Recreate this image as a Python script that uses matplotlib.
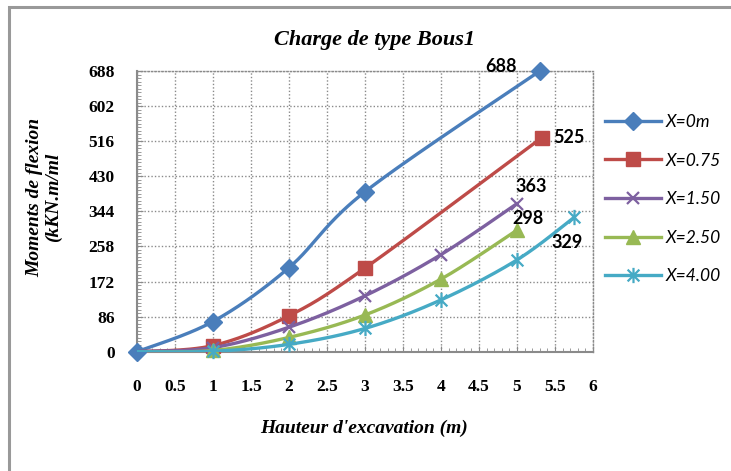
import numpy as np
import matplotlib
matplotlib.use("Agg")
import matplotlib.pyplot as plt
from matplotlib.path import Path
from matplotlib.patches import Rectangle
from matplotlib.ticker import MultipleLocator

# bending moments (kN.m/ml) vs excavation depth, one series per distance X
x_0m = [0, 1, 2, 3, 5.3]
m_0m = [0, 74, 206, 392, 688]
x_075 = [0, 1, 2, 3, 5.33]
m_075 = [0, 15, 88, 205, 525]
x_150 = [0, 1, 2, 3, 4, 5]
m_150 = [0, 10, 60, 137, 238, 363]
x_250 = [0, 1, 2, 3, 4, 5]
m_250 = [0, 3, 35, 90, 178, 298]
x_400 = [0, 1, 2, 3, 4, 5, 5.75]
m_400 = [0, 1, 18, 57, 127, 225, 329]

labels = ["X=0m", "X=0.75", "X=1.50", "X=2.50", "X=4.00"]
colors = ["#4A7EBB", "#BE4B48", "#7D60A0", "#98B954", "#46AAC5"]
yticks = [0, 86, 172, 258, 344, 430, 516, 602, 688]

# asterisk marker (x with a vertical bar)
star = Path([(-1, -1), (1, 1), (-1, 1), (1, -1), (0, -1.3), (0, 1.3)],
            [Path.MOVETO, Path.LINETO] * 3)
markers = ["D", "s", "x", "^", star]
msizes = [9, 10, 9, 10, 11]


def smooth(xs, ys, n=40):
    # Catmull-Rom curve through the points, like the "smoothed line" option
    p = np.column_stack([xs, ys]).astype(float)
    p = np.vstack([p[0], p, p[-1]])
    t = np.linspace(0, 1, n)[:, None]
    out = []
    for i in range(1, len(p) - 2):
        p0, p1, p2, p3 = p[i - 1], p[i], p[i + 1], p[i + 2]
        c = 0.5 * (2 * p1 + (p2 - p0) * t + (2 * p0 - 5 * p1 + 4 * p2 - p3) * t ** 2
                   + (3 * p1 - p0 - 3 * p2 + p3) * t ** 3)
        out.append(c if i == 1 else c[1:])
    return np.vstack(out)


W, H = 731, 471
fig = plt.figure(figsize=(W / 100, H / 100), dpi=100)
ax = fig.add_axes([137 / W, 1 - 351.7 / H, (593 - 137) / W, (351.7 - 71) / H])

series = [(x_0m, m_0m), (x_075, m_075), (x_150, m_150), (x_250, m_250), (x_400, m_400)]
handles = []
for k, (xs, ys) in enumerate(series):
    c = smooth(xs, ys)
    ax.plot(c[:, 0], c[:, 1], color=colors[k], lw=2.4, solid_capstyle="round", zorder=3 + k)
    start = 0 if k == 0 else 1
    mew = 1.6 if k in (2, 4) else 1
    ax.plot(xs[start:], ys[start:], ls="none", marker=markers[k], ms=msizes[k],
            color=colors[k], mec=colors[k], mew=mew, zorder=3 + k, clip_on=False)
    h, = ax.plot([], [], color=colors[k], lw=2.4, marker=markers[k], ms=msizes[k],
                 mec=colors[k], mew=mew)
    handles.append(h)

# end values
ends = [(x_0m[-1], m_0m[-1], -39, 4), (x_075[-1], m_075[-1], 27, 0),
        (x_150[-1], m_150[-1], 14, 17), (x_250[-1], m_250[-1], 11, 12),
        (x_400[-1], m_400[-1], -7, -25)]
for x, y, dx, dy in ends:
    ax.annotate(f"{y:g}", (x, y), xytext=(dx, dy), textcoords="offset pixels",
                ha="center", va="center", fontsize=13, fontweight="bold",
                family="Lato", zorder=10)

ax.set_xlim(0, 6)
ax.set_ylim(0, 688)
ax.set_xticks(np.arange(0, 6.01, 0.5))
ax.set_xticklabels(["0", "0.5", "1", "1.5", "2", "2.5", "3", "3.5", "4", "4.5", "5", "5.5", "6"])
ax.set_yticks(yticks)
ax.xaxis.set_minor_locator(MultipleLocator(0.1))
ax.yaxis.set_minor_locator(MultipleLocator(8.6))

grid_kw = dict(color="#8A8A8A", lw=1, ls=(0, (1, 1.5)))
ax.grid(True, which="major", **grid_kw)
for s in ["top", "right"]:
    ax.spines[s].set(color="#8A8A8A", lw=1, ls=(0, (1, 1.5)))
for s in ["left", "bottom"]:
    ax.spines[s].set(color="#8A8A8A", lw=1.5)
ax.tick_params(which="both", direction="in", color="#8A8A8A")
ax.tick_params(which="major", length=4)
ax.tick_params(which="minor", length=3)
ax.tick_params(axis="x", which="major", pad=20)
ax.tick_params(axis="y", which="major", pad=16)
for lab in ax.get_xticklabels() + ax.get_yticklabels():
    lab.set(family="Liberation Serif", fontweight="bold", fontsize=12.5)

fig.text(374 / W, 1 - 40 / H, "Charge de type Bous1", ha="center", va="center",
         family="Liberation Serif", style="italic", fontweight="bold", fontsize=16)
fig.text(364 / W, 1 - 428 / H, "Hauteur d'excavation (m)", ha="center", va="center",
         family="Liberation Serif", style="italic", fontweight="bold", fontsize=14)
fig.text(44 / W, 1 - 197 / H, "Moments de flexion\n(kKN.m/ml", ha="center", va="center",
         rotation=90, family="Liberation Serif", style="italic", fontweight="bold",
         fontsize=14, linespacing=1.1)

fig.legend(handles, labels, loc="upper left", bbox_to_anchor=(605 / W, 1 - 114 / H),
           frameon=False, borderpad=0, borderaxespad=0, handlelength=3.2,
           handletextpad=0.3, labelspacing=1.3,
           prop=dict(family="Lato", style="italic", size=12.5))

# outer chart frame
fig.patches.append(Rectangle((9 / W, -0.05), 1.1, 1 - 7 / H + 0.05, transform=fig.transFigure,
                             fill=False, ec="#999999", lw=2.2))

fig.savefig("out.png", dpi=100)
